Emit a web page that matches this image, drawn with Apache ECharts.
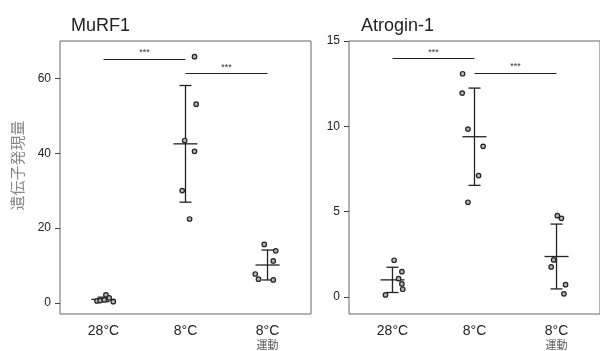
<!DOCTYPE html>
<html>
<head>
<meta charset="utf-8">
<script src="https://cdn.jsdelivr.net/npm/echarts@6/dist/echarts.min.js"></script>
<style>
  html, body { margin: 0; padding: 0; background: #fff; }
  #chart { width: 600px; height: 351px; }
</style>
</head>
<body>
<div id="chart"></div>
<script>
var categories = ['28°C', '8°C', '8°C\n運動'];

// MuRF1 (left panel): values per group, x jitter in category units
var murfValues = [
  [0.5, 0.6, 2.1, 1.3, 0.3, 0.8],
  [65.8, 53.1, 43.4, 40.5, 30.0, 22.4],
  [15.6, 13.9, 11.2, 7.7, 6.3, 6.1]
];
var murfJitter = [
  [-0.08, -0.04, 0.03, 0.07, 0.12, 0.01],
  [0.11, 0.13, -0.01, 0.11, -0.04, 0.05],
  [-0.04, 0.10, 0.07, -0.15, -0.11, 0.07]
];
var murfMean = [0.9, 42.5, 10.1];
var murfSd = [0.6, 15.6, 4.0];
var murfSig = [[0, 1, 65.1], [1, 2, 61.3]];

// Atrogin-1 (right panel)
var atroValues = [
  [2.15, 1.48, 1.07, 0.76, 0.45, 0.12],
  [13.08, 11.95, 9.84, 8.83, 7.11, 5.55],
  [4.76, 4.61, 2.17, 1.76, 0.72, 0.18]
];
var atroJitter = [
  [0.02, 0.115, 0.075, 0.115, 0.125, -0.085],
  [-0.145, -0.15, -0.08, 0.105, 0.05, -0.08],
  [0.01, 0.06, -0.035, -0.065, 0.11, 0.09]
];
var atroMean = [1.0, 9.39, 2.37];
var atroSd = [0.74, 2.85, 1.9];
var atroSig = [[0, 1, 13.96], [1, 2, 13.12]];

var murfTicks = [0, 20, 40, 60];
var atroTicks = [0, 5, 10, 15];

var FONT = 'Arial, "Liberation Sans", "Noto Sans CJK JP", sans-serif';

function points(values, jitter) {
  var out = [];
  values.forEach(function (g, i) {
    g.forEach(function (v, j) {
      out.push([i + jitter[i][j], v]);
    });
  });
  return out;
}

function errItem(params, api) {
  var x = api.value(0), m = api.value(1), s = api.value(2);
  var top = api.coord([x, m + s]);
  var bot = api.coord([x, m - s]);
  var mid = api.coord([x, m]);
  var st = { stroke: '#222', lineWidth: 1.3 };
  return {
    type: 'group',
    children: [
      { type: 'line', shape: { x1: top[0], y1: top[1], x2: bot[0], y2: bot[1] }, style: st },
      { type: 'line', shape: { x1: top[0] - 6, y1: top[1], x2: top[0] + 6, y2: top[1] }, style: st },
      { type: 'line', shape: { x1: bot[0] - 6, y1: bot[1], x2: bot[0] + 6, y2: bot[1] }, style: st },
      { type: 'line', shape: { x1: mid[0] - 12, y1: mid[1], x2: mid[0] + 12, y2: mid[1] }, style: st }
    ]
  };
}

function sigLines(sig) {
  return sig.map(function (s) {
    return [{ coord: [s[0], s[2]] }, { coord: [s[1], s[2]] }];
  });
}

function xAxisFor(idx) {
  return {
    type: 'value', gridIndex: idx, min: -0.53, max: 2.53,
    splitLine: { show: false },
    axisLine: { show: false, onZero: false },
    axisTick: { show: false },
    axisLabel: {
      customValues: [0, 1, 2],
      margin: 9,
      formatter: function (v) {
        var parts = categories[Math.round(v)].split('\n');
        return parts.length > 1 ? '{a|' + parts[0] + '}\n{b|' + parts[1] + '}' : '{a|' + parts[0] + '}';
      },
      rich: {
        a: { fontSize: 14, color: '#222', fontFamily: FONT, lineHeight: 16 },
        b: { fontSize: 11, color: '#555', fontFamily: FONT, lineHeight: 13 }
      }
    }
  };
}

function yAxisFor(idx, min, max, ticks, name) {
  return {
    type: 'value', gridIndex: idx, min: min, max: max,
    splitLine: { show: false },
    axisLine: { show: false, onZero: false },
    axisTick: { show: true, length: 5, customValues: ticks, lineStyle: { color: '#444' } },
    axisLabel: { customValues: ticks, margin: 9, fontSize: 12, color: '#222', fontFamily: FONT },
    name: name || '',
    nameLocation: 'middle',
    nameRotate: 90,
    nameGap: 34,
    nameTextStyle: { fontSize: 15, color: '#888', fontFamily: FONT, padding: [0, 0, 0, 24] }
  };
}

function panelSeries(idx, values, jitter, mean, sd, sig) {
  return [
    {
      type: 'custom', xAxisIndex: idx, yAxisIndex: idx,
      renderItem: errItem,
      encode: { x: 0, y: 1 },
      data: mean.map(function (m, i) { return [i, m, sd[i]]; }),
      z: 2
    },
    {
      type: 'scatter', xAxisIndex: idx, yAxisIndex: idx,
      symbolSize: 4.5,
      itemStyle: { color: '#b5b5b5', borderColor: '#222', borderWidth: 1.2, opacity: 1 },
      data: points(values, jitter),
      z: 3,
      markLine: {
        silent: true,
        symbol: ['none', 'none'],
        lineStyle: { color: '#222', width: 1.1, type: 'solid' },
        label: { show: true, position: 'middle', formatter: '***', fontSize: 9, color: '#333', distance: 2 },
        data: sigLines(sig)
      }
    }
  ];
}

var chart = echarts.init(document.getElementById('chart'), null, { renderer: 'canvas' });

chart.setOption({
  animation: false,
  backgroundColor: '#fff',
  textStyle: { fontFamily: FONT },
  title: [
    { text: 'MuRF1', left: 66, top: 12, textStyle: { fontSize: 18, fontWeight: 'normal', color: '#222', fontFamily: FONT } },
    { text: 'Atrogin-1', left: 356, top: 12, textStyle: { fontSize: 18, fontWeight: 'normal', color: '#222', fontFamily: FONT } }
  ],
  grid: [
    { left: 60, top: 41, width: 251, height: 273, show: true, borderColor: '#666', borderWidth: 1, backgroundColor: 'transparent' },
    { left: 349, top: 41, width: 254, height: 273, show: true, borderColor: '#666', borderWidth: 1, backgroundColor: 'transparent' }
  ],
  xAxis: [xAxisFor(0), xAxisFor(1)],
  yAxis: [
    yAxisFor(0, -3, 70, murfTicks, '遺伝子発現量'),
    yAxisFor(1, -1, 15, atroTicks)
  ],
  series: panelSeries(0, murfValues, murfJitter, murfMean, murfSd, murfSig)
    .concat(panelSeries(1, atroValues, atroJitter, atroMean, atroSd, atroSig))
});
</script>
</body>
</html>
